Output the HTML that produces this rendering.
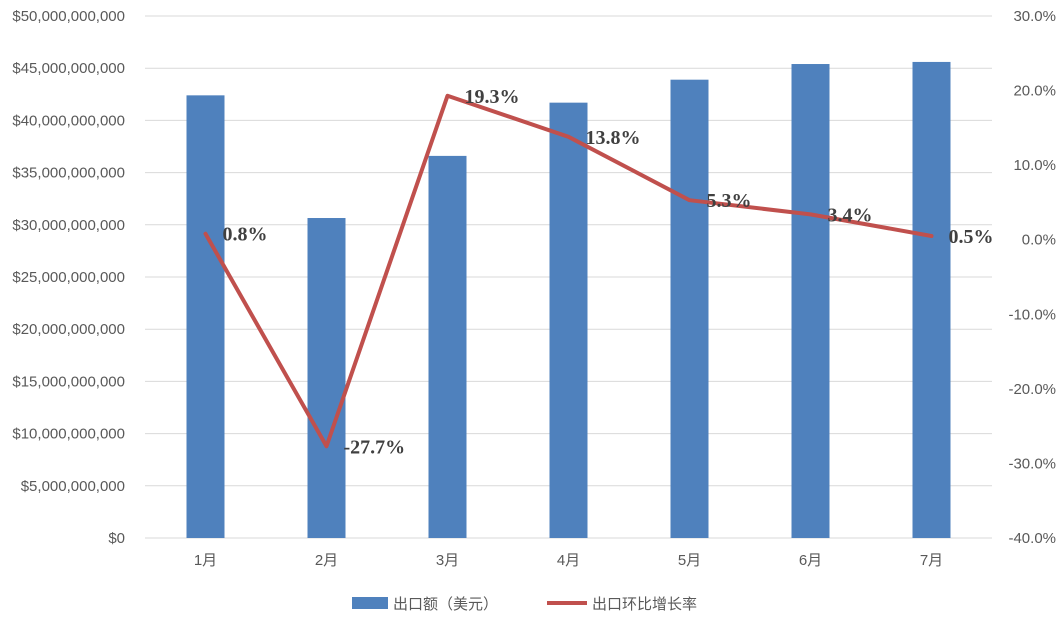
<!DOCTYPE html>
<html><head><meta charset="utf-8">
<style>
html,body{margin:0;padding:0;background:#fff;}
svg{display:block;}
</style></head>
<body>
<svg id="chart" width="1061" height="621" viewBox="0 0 1061 621" xmlns="http://www.w3.org/2000/svg"></svg>
<script>
const categories = ["1月","2月","3月","4月","5月","6月","7月"];
const exportValues = [42.4e9, 30.65e9, 36.6e9, 41.7e9, 43.9e9, 45.4e9, 45.6e9];
const growthRates = [0.8, -27.7, 19.3, 13.8, 5.3, 3.4, 0.5];
const leftTicks = [0,5e9,10e9,15e9,20e9,25e9,30e9,35e9,40e9,45e9,50e9];
const rightTicks = [-40,-30,-20,-10,0,10,20,30];

const NS = "http://www.w3.org/2000/svg";
const svg = document.getElementById("chart");
const X0 = 145, X1 = 992, Y0 = 538, Y1 = 16;
const step = (X1 - X0) / categories.length;
const xC = i => X0 + step * (i + 0.5);
const yL = v => Y0 - (v / 50e9) * (Y0 - Y1);
const yR = v => Y0 - ((v + 40) / 70) * (Y0 - Y1);
function mk(tag, attrs, txt){
  const e = document.createElementNS(NS, tag);
  for (const k in attrs) e.setAttribute(k, attrs[k]);
  if (txt !== undefined) e.textContent = txt;
  svg.appendChild(e);
  return e;
}
const fmt = v => "$" + v.toLocaleString("en-US");

leftTicks.forEach(t => {
  const y = yL(t);
  const g = mk("line", {x1:X0, x2:X1, y1:y, y2:y, stroke:"#d9d9d9", "stroke-width":1});
  
  
  const l = mk("text", {x:125, y:y+5, "text-anchor":"end", "font-family":"Liberation Sans, sans-serif", "font-size":15, fill:"#595959"}, fmt(t));
  
  
});
rightTicks.forEach(t => {
  const y = yR(t);
  const l = mk("text", {x:1056, y:y+5, "text-anchor":"end", "font-family":"Liberation Sans, sans-serif", "font-size":15, fill:"#595959"}, t.toFixed(1) + "%");
  
  
});

categories.forEach((c, i) => {
  const v = exportValues[i];
  const b = mk("rect", {x:xC(i)-19, y:yL(v), width:38, height:Y0 - yL(v), fill:"#4f81bd"});
  
  
  const l = mk("text", {x:xC(i), y:Y0+27, "text-anchor":"middle", "font-family":"Liberation Sans, Noto Sans CJK SC, sans-serif", "font-size":15, fill:"#595959"}, c);
  
  
});

const pts = growthRates.map((r, i) => xC(i) + "," + yR(r)).join(" ");
const line = mk("polyline", {points:pts, fill:"none", stroke:"#c0504d", "stroke-width":4, "stroke-linejoin":"round", "stroke-linecap":"round"});



growthRates.forEach((r, i) => {
  const t = mk("text", {x:xC(i)+17, y:yR(r)+7, "font-family":"Liberation Serif, serif", "font-weight":"bold", "font-size":20, fill:"#404040"}, r.toFixed(1) + "%");
  
  
});

const lb = mk("rect", {x:352, y:597, width:36, height:12, fill:"#4f81bd"});


const lt1 = mk("text", {x:393, y:609, "font-family":"Liberation Sans, Noto Sans CJK SC, sans-serif", "font-size":15, fill:"#595959"}, "出口额（美元）");


const ll = mk("line", {x1:547, x2:587, y1:603, y2:603, stroke:"#c0504d", "stroke-width":4});


const lt2 = mk("text", {x:592, y:609, "font-family":"Liberation Sans, Noto Sans CJK SC, sans-serif", "font-size":15, fill:"#595959"}, "出口环比增长率");


</script>
</body></html>
